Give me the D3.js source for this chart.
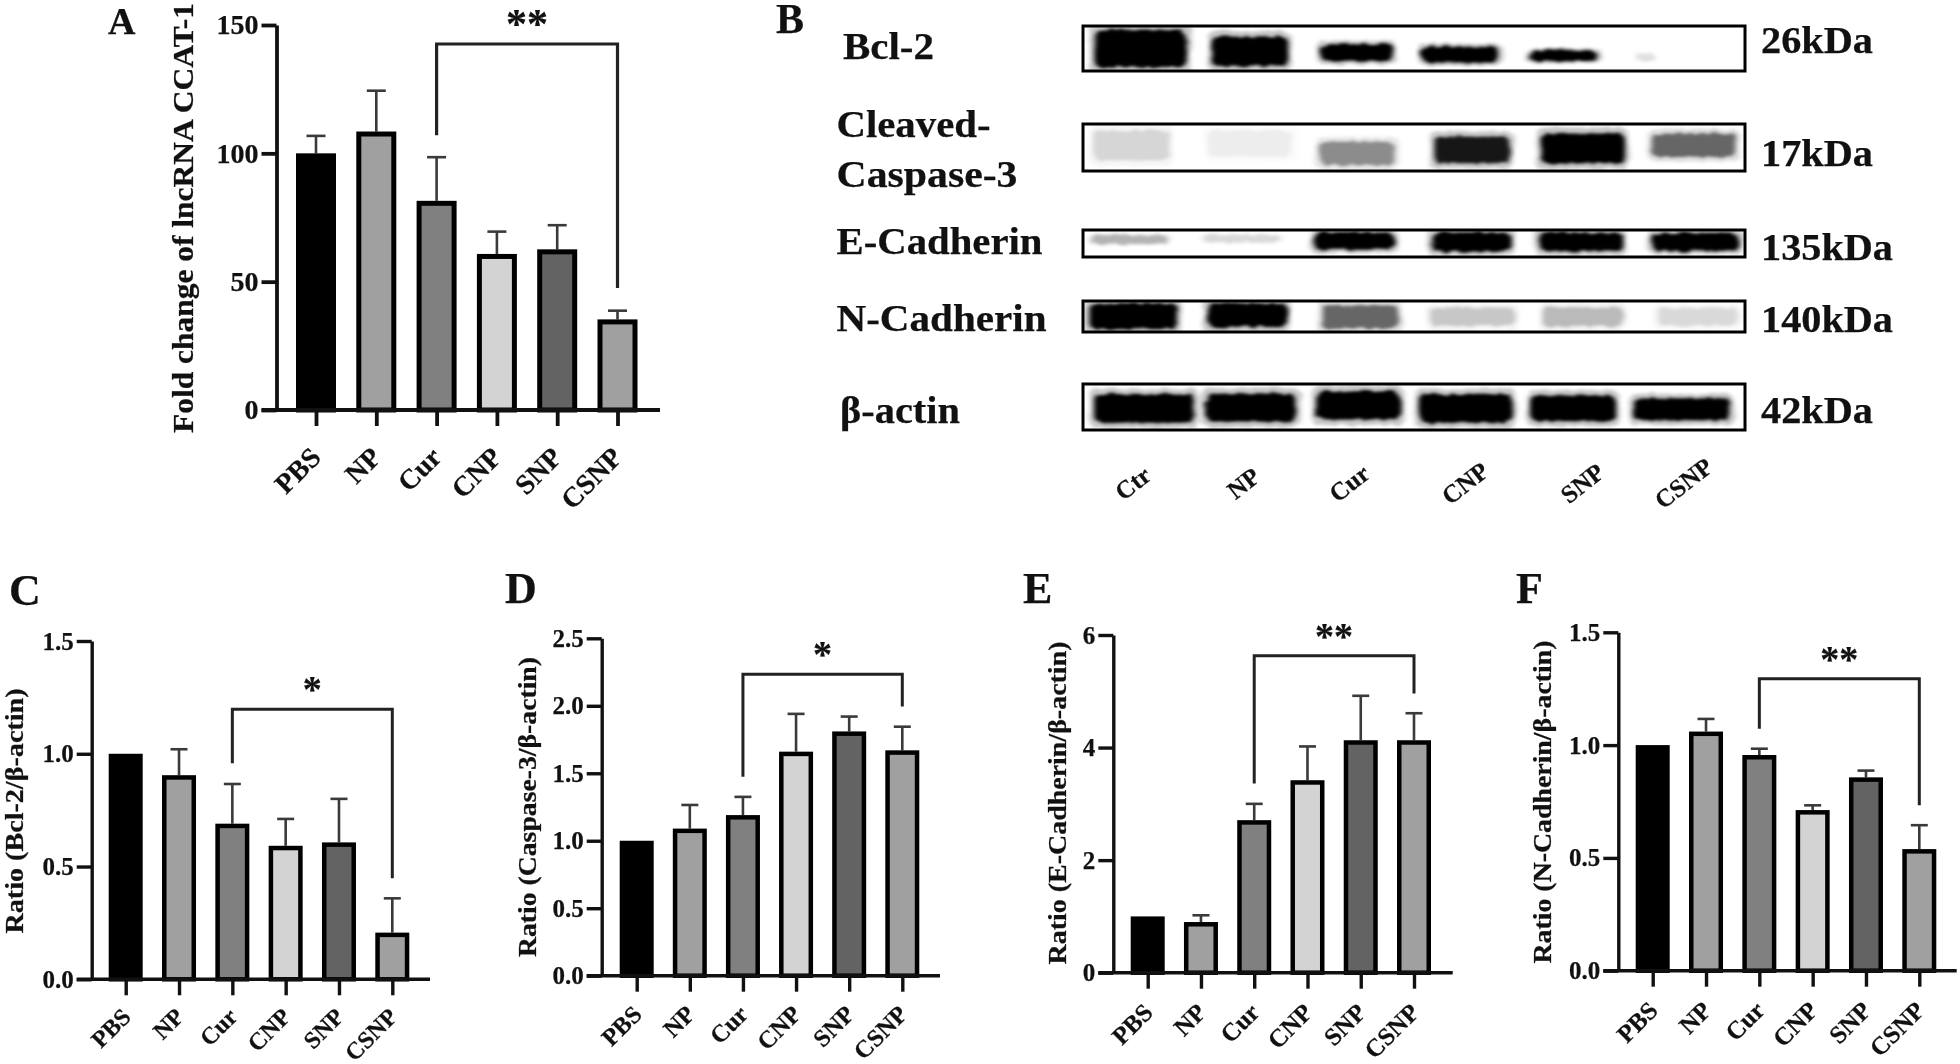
<!DOCTYPE html>
<meta charset="utf-8">
<title>lncRNA CCAT-1 and western blot ratios</title>
<style>
html, body { margin: 0; background: #fff; }
svg { display: block; }
text { font-family: "Liberation Serif", "Times New Roman", serif; font-weight: bold; fill: #111; stroke: #111; stroke-width: 0.25px; }
#all { filter: blur(0.6px); }
</style>
<svg id="fig" width="1960" height="1064"></svg>
<script src="https://cdn.jsdelivr.net/npm/d3@7/dist/d3.min.js"></script>
<script>
'use strict';

// values
const groups = ["PBS", "NP", "Cur", "CNP", "SNP", "CSNP"];
const barFills = ["#000000", "#a0a0a0", "#808080", "#d3d3d3", "#636363", "#a0a0a0"];

const ccatMeans = [100, 108.5, 81.5, 60.8, 62.6, 35.3];
const ccatTops = [106.8, 124.4, 98.5, 69.5, 72, 38.7];
const ccatTicks = [0, 50, 100, 150];
const ccatBracket = [107, 142.6, 47.5];

const bclMeans = [1, 0.905, 0.69, 0.592, 0.607, 0.207];
const bclTops = [1, 1.02, 0.866, 0.711, 0.80, 0.359];
const bclTicks = [0, 0.5, 1, 1.5];
const bclBracket = [0.958, 1.197, 0.448];

const caspMeans = [1, 1.09, 1.19, 1.66, 1.81, 1.67];
const caspTops = [1, 1.265, 1.325, 1.94, 1.92, 1.845];
const caspTicks = [0, 0.5, 1, 1.5, 2, 2.5];
const caspBracket = [1.475, 2.233, 1.994];

const ecadMeans = [1, 0.9, 2.71, 3.42, 4.13, 4.13];
const ecadTops = [1, 1.02, 3.0, 4.02, 4.92, 4.61];
const ecadTicks = [0, 2, 4, 6];
const ecadBracket = [3.36, 5.63, 4.96];

const ncadMeans = [1, 1.06, 0.956, 0.712, 0.857, 0.539];
const ncadTops = [1, 1.116, 0.984, 0.733, 0.887, 0.645];
const ncadTicks = [0, 0.5, 1, 1.5];
const ncadBracket = [1.073, 1.294, 0.733];

// blot bands: [lane position %, width %, centre height %, height %, darkness]
const bclBands = [[8.7, 13.9, 50, 84, 1], [25.2, 11.6, 56, 64, 1], [41.4, 11, 59, 38, 1], [57, 11.6, 63, 36, 1], [72.6, 10.4, 66, 24, 1], [85, 2.9, 70, 15, 0.12]];
const caspBands = [[7.3, 11.5, 45, 64, 0.16], [25.2, 12.7, 41, 57, 0.07], [41.4, 11.5, 63, 50, 0.45], [58.7, 11.5, 55, 57, 0.92], [75.5, 12.7, 52, 64, 1], [92.3, 12.7, 45, 50, 0.6]];
const ecadBands = [[6.9, 11.6, 35, 31, 0.3], [24, 11.6, 32, 25, 0.15], [41, 12.1, 40, 66, 1], [58.7, 12.1, 44, 72, 1], [75.1, 12.7, 44, 72, 1], [92.5, 13.3, 44, 66, 1]];
const ncadBands = [[7.5, 13.3, 49, 84, 1], [24.8, 12.1, 46, 78, 0.98], [41.9, 11.6, 51, 74, 0.6], [58.8, 12.7, 51, 58, 0.22], [75.5, 12.1, 51, 62, 0.27], [92.8, 12.1, 51, 58, 0.15]];
const actinBands = [[9.2, 15, 53, 62, 1], [25.4, 13.6, 51, 62, 1], [41.6, 12.7, 46, 62, 1], [57.8, 13.9, 53, 62, 1], [74, 12.9, 53, 56, 1], [90.5, 14.5, 55, 48, 1]];

const laneNames = ["Ctr", "NP", "Cur", "CNP", "SNP", "CSNP"];
const laneSpots = [7.5, 24.2, 40.2, 57.7, 75.4, 90.7];

const svg = d3.select("#fig");
const all = svg.append("g").attr("id", "all");

const defs = svg.append("defs");

// rough band edges, then a soft smear
const smear = defs.append("filter").attr("id", "smear")
    .attr("x", "-30%").attr("y", "-60%").attr("width", "160%").attr("height", "220%");
smear.append("feTurbulence").attr("type", "fractalNoise")
    .attr("baseFrequency", "0.16 0.05").attr("numOctaves", 2).attr("seed", 4).attr("result", "n");
smear.append("feDisplacementMap").attr("in", "SourceGraphic").attr("in2", "n")
    .attr("scale", 6).attr("xChannelSelector", "R").attr("yChannelSelector", "G");
smear.append("feGaussianBlur").attr("stdDeviation", "2.6 1.8");

function drawBars(p) {
  const g = all.append("g");

  const x = d3.scalePoint().domain(groups).range(p.xRange);
  const y = d3.scaleLinear().domain([0, d3.max(p.ticks)]).range(p.yRange);

  // error bars go under the bars
  const err = g.append("g").selectAll("g").data(groups).join("g")
      .attr("stroke", "#3a3a3a").attr("stroke-width", 2.6);
  err.filter((d, i) => p.tops[i] > p.means[i]).append("line")
      .attr("x1", d => x(d)).attr("x2", d => x(d))
      .attr("y1", (d, i) => y(p.means[groups.indexOf(d)]))
      .attr("y2", d => y(p.tops[groups.indexOf(d)]));
  err.filter((d, i) => p.tops[i] > p.means[i]).append("line")
      .attr("x1", d => x(d) - p.cap).attr("x2", d => x(d) + p.cap)
      .attr("y1", d => y(p.tops[groups.indexOf(d)]))
      .attr("y2", d => y(p.tops[groups.indexOf(d)]));

  const sw = p.barStroke;
  g.append("g").selectAll("rect").data(groups).join("rect")
      .attr("x", d => x(d) - p.barWidth / 2 + sw / 2)
      .attr("width", p.barWidth - sw)
      .attr("y", (d, i) => y(p.means[i]) + sw / 2)
      .attr("height", (d, i) => y(0) - y(p.means[i]) - sw / 2)
      .attr("fill", (d, i) => barFills[i])
      .attr("stroke", "#000").attr("stroke-width", sw);

  // y axis
  const ya = g.append("g").attr("transform", "translate(" + p.axisX + ",0)")
      .call(d3.axisLeft(y).tickValues(p.ticks).tickSize(15).tickSizeOuter(0).tickPadding(3).tickFormat(d3.format(p.fmt)));
  ya.selectAll("path,line").attr("stroke", "#111").attr("stroke-width", p.axisStroke);
  ya.selectAll("text").style("font-size", p.tickFont + "px");

  // x axis
  const xa = g.append("g").attr("transform", "translate(0," + y(0) + ")")
      .call(d3.axisBottom(x).tickSize(16).tickSizeOuter(0));
  xa.select(".domain").remove();
  xa.append("line").attr("x1", p.axisX - 15).attr("x2", p.axisEnd);
  xa.selectAll("line").attr("stroke", "#111").attr("stroke-width", p.axisStroke);
  xa.selectAll("text")
      .attr("y", 0).attr("dy", "0.35em")
      .attr("text-anchor", "end")
      .attr("transform", "translate(" + p.labelShift + ") rotate(-45)")
      .style("font-size", p.xFont + "px");

  // y title
  g.append("text")
      .attr("transform", "translate(" + p.titleX + "," + p.titleY + ") rotate(-90)")
      .attr("text-anchor", "middle")
      .attr("textLength", p.titleLength).attr("lengthAdjust", "spacingAndGlyphs")
      .style("font-size", p.titleFont + "px")
      .text(p.title);

  // significance bracket from Cur to CSNP
  const line = d3.line();
  g.append("path")
      .attr("d", line([
        [x("Cur"), y(p.bracket[0])], [x("Cur"), y(p.bracket[1])],
        [x("CSNP"), y(p.bracket[1])], [x("CSNP"), y(p.bracket[2])]
      ]))
      .attr("fill", "none").attr("stroke", "#222").attr("stroke-width", p.bracketStroke);
  g.append("text")
      .attr("x", (x("Cur") + x("CSNP")) / 2)
      .attr("y", y(p.bracket[1]) + p.starDrop)
      .attr("text-anchor", "middle")
      .style("font-size", p.starFont + "px")
      .text(p.stars);

  g.append("text").attr("x", p.letter[0]).attr("y", p.letter[1])
      .style("font-size", p.letterFont + "px")
      .text(p.name);
}

drawBars({
  name: "A", letter: [108, 34], letterFont: 38,
  means: ccatMeans, tops: ccatTops, ticks: ccatTicks, bracket: ccatBracket, fmt: "d", stars: "**",
  xRange: [316, 617.5], yRange: [410, 25], axisX: 276.5, axisEnd: 660,
  barWidth: 40, barStroke: 5, axisStroke: 3.8, cap: 9.5, bracketStroke: 3.2,
  tickFont: 28, xFont: 28, labelShift: "-1,42",
  title: "Fold change of lncRNA CCAT-1", titleX: 193, titleY: 218, titleLength: 430, titleFont: 29,
  starDrop: -6, starFont: 42
});

drawBars({
  name: "C", letter: [9, 605], letterFont: 44,
  means: bclMeans, tops: bclTops, ticks: bclTicks, bracket: bclBracket, fmt: ".1f", stars: "*",
  xRange: [125.7, 392.3], yRange: [979.3, 641], axisX: 91.7, axisEnd: 430,
  barWidth: 34, barStroke: 4.5, axisStroke: 3.4, cap: 8.5, bracketStroke: 3,
  tickFont: 25, xFont: 24, labelShift: "0,33",
  title: "Ratio (Bcl-2/β-actin)", titleX: 23, titleY: 811, titleLength: 245, titleFont: 25,
  starDrop: -7, starFont: 38
});

drawBars({
  name: "D", letter: [505, 603], letterFont: 44,
  means: caspMeans, tops: caspTops, ticks: caspTicks, bracket: caspBracket, fmt: ".1f", stars: "*",
  xRange: [636.7, 902.3], yRange: [975.7, 638.3], axisX: 601.7, axisEnd: 940,
  barWidth: 34, barStroke: 4.5, axisStroke: 3.4, cap: 8.5, bracketStroke: 3,
  tickFont: 25, xFont: 24.5, labelShift: "0,34",
  title: "Ratio (Caspase-3/β-actin)", titleX: 536, titleY: 807, titleLength: 300, titleFont: 25,
  starDrop: -7, starFont: 38
});

drawBars({
  name: "E", letter: [1023, 603], letterFont: 44,
  means: ecadMeans, tops: ecadTops, ticks: ecadTicks, bracket: ecadBracket, fmt: "d", stars: "**",
  xRange: [1147.7, 1414], yRange: [972.7, 635], axisX: 1113.3, axisEnd: 1452.7,
  barWidth: 34, barStroke: 4.5, axisStroke: 3.4, cap: 8.5, bracketStroke: 3,
  tickFont: 25, xFont: 25, labelShift: "0,35",
  title: "Ratio (E-Cadherin/β-actin)", titleX: 1066, titleY: 803, titleLength: 323, titleFont: 25,
  starDrop: -7, starFont: 38
});

drawBars({
  name: "F", letter: [1516, 603], letterFont: 44,
  means: ncadMeans, tops: ncadTops, ticks: ncadTicks, bracket: ncadBracket, fmt: ".1f", stars: "**",
  xRange: [1652.7, 1919.3], yRange: [970.7, 632.3], axisX: 1618.3, axisEnd: 1956.7,
  barWidth: 34, barStroke: 4.5, axisStroke: 3.4, cap: 8.5, bracketStroke: 3,
  tickFont: 25, xFont: 25, labelShift: "0,35",
  title: "Ratio (N-Cadherin/β-actin)", titleX: 1551, titleY: 802, titleLength: 323, titleFont: 25,
  starDrop: -7, starFont: 38
});

// panel B, the blots
const laneX = d3.scaleLinear().domain([0, 100]).range([1083, 1745]);

const strips = [
  {bands: bclBands, top: 26, bottom: 71, name: ["Bcl-2"], nameAt: [843, 59], nameLen: [91], kda: "26kDa", kdaY: 53, kdaLen: 112},
  {bands: caspBands, top: 124, bottom: 171, name: ["Cleaved-", "Caspase-3"], nameAt: [836.5, 137, 187], nameLen: [154, 181], kda: "17kDa", kdaY: 166, kdaLen: 112},
  {bands: ecadBands, top: 230, bottom: 257, name: ["E-Cadherin"], nameAt: [836.5, 254], nameLen: [206], kda: "135kDa", kdaY: 260, kdaLen: 132},
  {bands: ncadBands, top: 301, bottom: 332, name: ["N-Cadherin"], nameAt: [836.5, 331], nameLen: [210], kda: "140kDa", kdaY: 332, kdaLen: 132},
  {bands: actinBands, top: 384, bottom: 430, name: ["β-actin"], nameAt: [840, 423], nameLen: [120], kda: "42kDa", kdaY: 423, kdaLen: 112}
];

const darkness = d3.scaleLinear().domain([0, 1]).range(["#ffffff", "#000000"]);
const blot = all.append("g");

strips.forEach(function(s, k) {
  const y = d3.scaleLinear().domain([0, 100]).range([s.top, s.bottom]);
  const clip = "strip" + k;
  defs.append("clipPath").attr("id", clip).append("rect")
      .attr("x", laneX(0)).attr("y", s.top)
      .attr("width", laneX(100) - laneX(0)).attr("height", s.bottom - s.top);

  const gel = blot.append("g").attr("clip-path", "url(#" + clip + ")");

  // grey halo round each band, then the darker core
  gel.append("g").selectAll("rect").data(s.bands).join("rect")
      .attr("x", d => laneX(d[0] - d[1] * 0.55))
      .attr("width", d => (laneX(d[1]) - laneX(0)) * 1.1)
      .attr("y", d => y(d[2] - d[3] * 0.7))
      .attr("height", d => (y(d[3]) - y(0)) * 1.4)
      .attr("rx", 8)
      .attr("fill", d => darkness(d[4]))
      .attr("opacity", 0.22)
      .attr("filter", "url(#smear)");
  gel.append("g").selectAll("rect").data(s.bands).join("rect")
      .attr("x", d => laneX(d[0] - d[1] / 2))
      .attr("width", d => laneX(d[1]) - laneX(0))
      .attr("y", d => y(d[2] - d[3] / 2))
      .attr("height", d => y(d[3]) - y(0))
      .attr("rx", 7)
      .attr("fill", d => darkness(d[4]))
      .attr("filter", "url(#smear)");

  blot.append("rect")
      .attr("x", laneX(0)).attr("y", s.top)
      .attr("width", laneX(100) - laneX(0)).attr("height", s.bottom - s.top)
      .attr("fill", "none").attr("stroke", "#000").attr("stroke-width", 3);

  s.name.forEach(function(t, i) {
    blot.append("text")
        .attr("x", s.nameAt[0]).attr("y", s.nameAt[i + 1])
        .attr("textLength", s.nameLen[i]).attr("lengthAdjust", "spacingAndGlyphs")
        .style("font-size", "38px")
        .text(t);
  });

  blot.append("text")
      .attr("x", 1761).attr("y", s.kdaY)
      .attr("textLength", s.kdaLen).attr("lengthAdjust", "spacingAndGlyphs")
      .style("font-size", "38px")
      .text(s.kda);
});

blot.selectAll("text.lane").data(laneNames).join("text")
    .attr("class", "lane")
    .attr("transform", (d, i) => "translate(" + laneX(laneSpots[i]) + ",483) rotate(-38)")
    .attr("text-anchor", "middle")
    .attr("dy", "0.35em")
    .style("font-size", "25px")
    .text(d => d);

blot.append("text").attr("x", 776).attr("y", 33)
    .attr("textLength", 28).attr("lengthAdjust", "spacingAndGlyphs")
    .style("font-size", "42px")
    .text("B");
</script>
